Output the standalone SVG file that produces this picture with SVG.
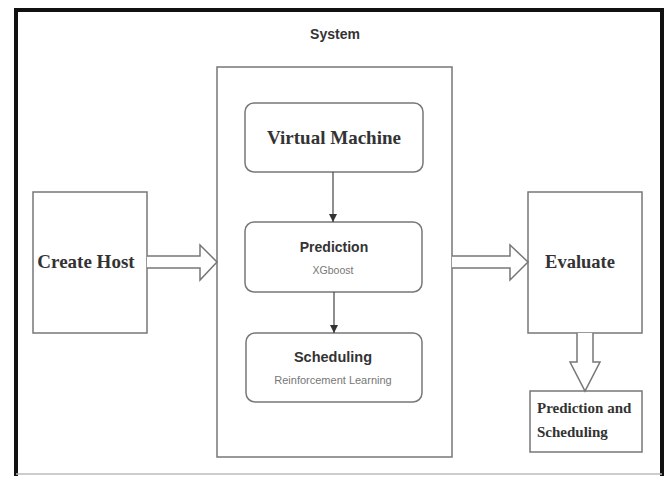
<svg xmlns="http://www.w3.org/2000/svg" width="669" height="477" viewBox="0 0 669 477">
<style>
.box{fill:#fff;stroke:#777;stroke-width:1.5}
.serif{font-family:"Liberation Serif",serif;font-weight:bold;fill:#333}
.sans{font-family:"Liberation Sans",Arial,sans-serif}
.ttl{font-weight:bold;fill:#333}
.sub{fill:#777}
.conn{stroke:#444;stroke-width:1.2;fill:none}
.block{fill:#fff;stroke:#777;stroke-width:1.5;stroke-linejoin:miter}
</style>
<defs>
<marker id="ah" viewBox="0 0 10 10" refX="10" refY="5" markerWidth="7" markerHeight="7" orient="auto">
<path d="M0,0 L10,5 L0,10 z" fill="#333"/>
</marker>
</defs>
<rect width="669" height="477" fill="#fff"/>
<g id="frame">
<path d="M16,476 V10 H662 V476" fill="none" stroke="#111" stroke-width="4"/>
<line x1="16" y1="474" x2="662" y2="474" stroke="#bbb" stroke-width="1.5"/>
</g>
<g id="system">
<text x="335" y="39" class="sans ttl" font-size="14" text-anchor="middle">System</text>
<rect x="217" y="67" width="235" height="390" class="box"/>
</g>
<g id="virtual-machine">
<rect x="245" y="103" width="178" height="69" rx="9" class="box"/>
<text x="334" y="144" class="serif" font-size="19" text-anchor="middle">Virtual Machine</text>
</g>
<g id="prediction">
<rect x="245" y="222" width="177" height="70" rx="9" class="box"/>
<text x="334" y="252" class="sans ttl" font-size="14" text-anchor="middle">Prediction</text>
<text x="333" y="274" class="sans sub" font-size="10.5" text-anchor="middle">XGboost</text>
</g>
<g id="scheduling">
<rect x="246" y="333" width="176" height="69" rx="9" class="box"/>
<text x="333" y="362" class="sans ttl" font-size="14.5" text-anchor="middle">Scheduling</text>
<text x="333" y="384" class="sans sub" font-size="11" text-anchor="middle">Reinforcement Learning</text>
</g>
<g id="create-host">
<rect x="33" y="192" width="114" height="141" class="box"/>
<text x="86" y="268" class="serif" font-size="19" text-anchor="middle">Create Host</text>
</g>
<g id="evaluate">
<rect x="528" y="192" width="114" height="141" class="box"/>
<text x="580" y="268" class="serif" font-size="18.5" text-anchor="middle">Evaluate</text>
</g>
<g id="prediction-and-scheduling">
<rect x="530" y="391" width="112" height="61" class="box"/>
<text class="serif" font-size="15"><tspan x="537" y="413">Prediction and</tspan><tspan x="537" y="437">Scheduling</tspan></text>
</g>
<g id="connectors">
<line x1="333" y1="172" x2="333" y2="222" class="conn" marker-end="url(#ah)"/>
<line x1="334" y1="292" x2="334" y2="333" class="conn" marker-end="url(#ah)"/>
<path d="M147,256 H200 V245 L217,262 L200,280 V268 H147" class="block"/>
<path d="M452,256 H510 V245 L528,262 L510,280 V268 H452" class="block"/>
<path d="M577,333 V362 H570 L585,391 L600,362 H593 V333" class="block"/>
</g>
</svg>
